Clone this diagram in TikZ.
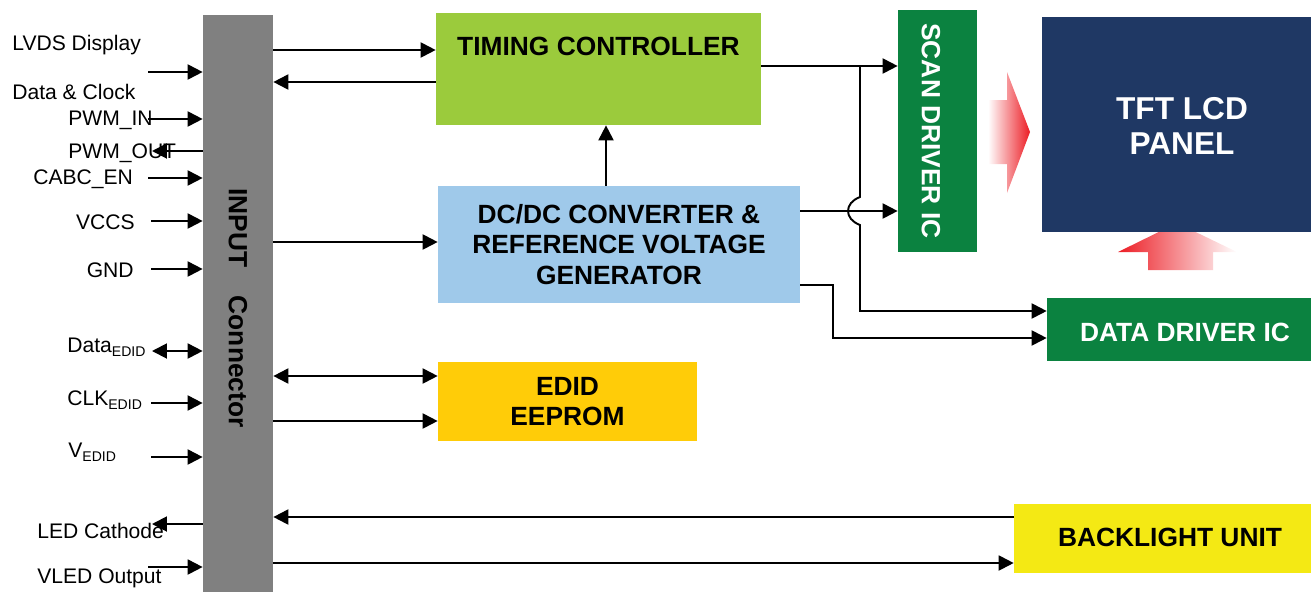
\documentclass[tikz,border=0pt]{standalone}
\usepackage{fontspec}
\setmainfont{Liberation Sans}
\usetikzlibrary{arrows.meta,calc,positioning}
\definecolor{conngray}{HTML}{808080}
\definecolor{tcongreen}{HTML}{9BCB3C}
\definecolor{dcblue}{HTML}{9FC9EA}
\definecolor{edidyellow}{HTML}{FFCC08}
\definecolor{drvgreen}{HTML}{0B8240}
\definecolor{panelblue}{HTML}{1F3864}
\definecolor{blyellow}{HTML}{F4E914}
\definecolor{fadered}{HTML}{EC1C24}
\newcommand{\edid}{\raisebox{-0.4ex}{\fontsize{8}{9}\selectfont EDID}}

\begin{document}
\begin{tikzpicture}[x=0.02cm, y=-0.02cm,
  blk/.style={draw=none, inner sep=0pt, align=center, font=\fontsize{15}{17.3}\selectfont\bfseries},
  pin/.style={inner sep=0pt, font=\fontsize{12}{14}\selectfont},
  sig/.style={-{Triangle[length=0.3cm,width=0.3cm]}, line width=1.1pt},
  sigb/.style={{Triangle[length=0.3cm,width=0.3cm]}-{Triangle[length=0.3cm,width=0.3cm]}, line width=1.1pt}
]
\useasboundingbox (0,0) rectangle (1311,592);

% light arrows into the panel
\shade[left color=white, right color=fadered] (988,100) -- (1007,100) -- (1007,72) -- (1030,132) -- (1007,193) -- (1007,164) -- (988,164) -- cycle;
\shade[left color=fadered, right color=white] (1148,270) -- (1148,252) -- (1118,252) -- (1177,223) -- (1237,252) -- (1213,252) -- (1213,270) -- cycle;

\node[blk, fill=conngray, minimum width=1.4cm, minimum height=11.54cm] (conn) at (238,303.5) {};
\node[blk, rotate=-90] (conntxt) at (238,308) {INPUT\hspace{0.8em} Connector};

\node[blk, fill=tcongreen, minimum width=6.5cm, minimum height=2.24cm] (tcon) at (598.5,69) {};
\node[blk] (tcontxt) at ($(tcon.north)+(0,34)$) {TIMING CONTROLLER};
\node[blk, fill=dcblue, minimum width=7.24cm, minimum height=2.34cm] (dcdc) at (619,244.5) {DC/DC CONVERTER \&\\REFERENCE VOLTAGE\\GENERATOR};
\node[blk, fill=edidyellow, minimum width=5.18cm, minimum height=1.58cm] (edid) at (567.5,401.5) {EDID\\EEPROM};
\node[blk, fill=drvgreen, minimum width=1.58cm, minimum height=4.84cm] (scan) at (937.5,131) {};
\node[blk, text=white, rotate=-90] (scantxt) at (931,131) {SCAN DRIVER IC};
\node[blk, fill=panelblue, minimum width=5.38cm, minimum height=4.3cm] (tft) at (1176.5,124.5) {};
\node[blk, text=white, font=\fontsize{18}{20.4}\selectfont\bfseries] (tfttxt) at (1182,126) {TFT LCD\\PANEL};
\node[blk, fill=drvgreen, minimum width=5.28cm, minimum height=1.26cm] (ddrv) at (1179,329.5) {};
\node[blk, text=white] (ddrvtxt) at (1185,332) {DATA DRIVER IC};
\node[blk, fill=blyellow, minimum width=5.94cm, minimum height=1.38cm] (blu) at (1162.5,538.5) {};
\node[blk] (blutxt) at (1170,537) {BACKLIGHT UNIT};

\node[pin, anchor=west] (lvds) at (12,45) {LVDS Display};
\node[pin, anchor=west] (lvdsb) at (12,92) {Data \& Clock};
\node[pin, anchor=west] (pwmin) at (68,120) {PWM\_IN};
\node[pin, anchor=west] (pwmout) at (68,153) {PWM\_OUT};
\node[pin, anchor=west] (cabc) at (33,179) {CABC\_EN};
\node[pin, anchor=east] (vccs) at (135,222) {VCCS};
\node[pin, anchor=east] (gnd) at (134,270) {GND};
\node[pin, anchor=west] (dedid) at (67,347) {Data\edid};
\node[pin, anchor=west] (cedid) at (67,400) {CLK\edid};
\node[pin, anchor=west] (vedid) at (68,452) {V\edid};
\node[pin, anchor=west] (ledk) at (37,531) {LED Cathode};
\node[pin, anchor=west] (vled) at (37,578) {VLED Output};

\coordinate (lvdsin) at (148,72);
\coordinate (pwmi) at (148,119);
\coordinate (pwmo) at (152,151);
\coordinate (cabcin) at (148,178);
\coordinate (vccsin) at (151,221);
\coordinate (gndin) at (151,269);
\coordinate (ddat) at (152,351);
\coordinate (dclk) at (151,403);
\coordinate (dvcc) at (151,457);
\coordinate (ledo) at (152,524);
\coordinate (vledin) at (148,567);

\draw[sig] (lvdsin) -- (lvdsin -| conn.west);
\draw[sig] (pwmi) -- (pwmi -| conn.west);
\draw[sig] (pwmo -| conn.west) -- (pwmo);
\draw[sig] (cabcin) -- (cabcin -| conn.west);
\draw[sig] (vccsin) -- (vccsin -| conn.west);
\draw[sig] (gndin) -- (gndin -| conn.west);
\draw[sigb] (ddat) -- (ddat -| conn.west);
\draw[sig] (dclk) -- (dclk -| conn.west);
\draw[sig] (dvcc) -- (dvcc -| conn.west);
\draw[sig] (ledo -| conn.west) -- (ledo);
\draw[sig] (vledin) -- (vledin -| conn.west);

\draw[sig] (conn.east |- 0,50) -- (tcon.west |- 0,50);
\draw[sig] (tcon.west |- 0,82) -- (conn.east |- 0,82);
\draw[sig] (dcdc.north -| 606,0) -- (tcon.south -| 606,0);
\draw[sig] (conn.east |- 0,242) -- (dcdc.west |- 0,242);
\draw[sigb] (conn.east |- 0,376) -- (edid.west |- 0,376);
\draw[sig] (conn.east |- 0,421) -- (edid.west |- 0,421);
\draw[sig] (blu.west |- 0,517) -- (conn.east |- 0,517);
\draw[sig] (conn.east |- 0,563) -- (blu.west |- 0,563);

\draw[sig] (tcon.east |- 0,66) -- (scan.west |- 0,66);
\coordinate (br) at (860,66);
\draw[sig] (br) -- (860,197) .. controls (844,203) and (844,219) .. (860,225) -- (860,311) -- (ddrv.west |- 0,311);
\draw[sig] (dcdc.east |- 0,211) -- (scan.west |- 0,211);
\draw[sig] (dcdc.east |- 0,285) -- (833,285) -- (833,338) -- (ddrv.west |- 0,338);

\end{tikzpicture}
\end{document}
